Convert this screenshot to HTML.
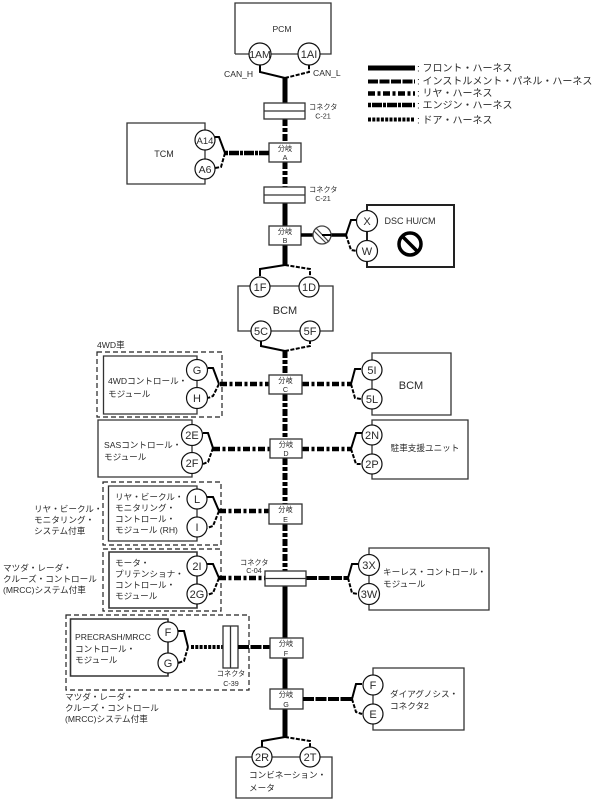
<!DOCTYPE html>
<html><head><meta charset="utf-8">
<style>
html,body{margin:0;padding:0;background:#fff;width:602px;height:799px;overflow:hidden}
svg{display:block}
text{font-family:"Liberation Sans","Noto Sans CJK JP",sans-serif;fill:#2a2a2a;font-size:8.6px}
.m{text-anchor:middle}
.s{font-size:7.200px}
.l{font-size:10px}
.b{fill:none;stroke:#333;stroke-width:1.3}
.box{fill:#fff;stroke:#333;stroke-width:1.3}
.c{fill:#fff;stroke:#111;stroke-width:1.2}
.ct{font-size:11px;text-anchor:middle}
.g{fill:none;stroke:#222;stroke-width:1.2;stroke-dasharray:5 3}
.w{fill:none;stroke:#000;stroke-width:2}
.wd{fill:none;stroke:#000;stroke-width:2;stroke-dasharray:4 1.5}
.front{stroke:#000;stroke-width:5;fill:none}
.inst{stroke:#000;stroke-width:4;fill:none;stroke-dasharray:11 1.5}
.rear{stroke:#000;stroke-width:4.5;fill:none;stroke-dasharray:7 2.5 3 2.5}
.rv{stroke:#000;stroke-width:5;fill:none;stroke-dasharray:7 2 4 2}
.eng{stroke:#000;stroke-width:4.5;fill:none;stroke-dasharray:3 1 10 1}
.door{stroke:#000;stroke-width:4;fill:none;stroke-dasharray:3 1.3}
</style></head><body>
<svg width="602" height="799" viewBox="0 0 602 799" xmlns="http://www.w3.org/2000/svg">
<!-- legend -->
<path class="front" d="M368 68H415"/><path class="inst" d="M368 81.500H415" style="stroke-dasharray:10 1.500"/>
<path class="rear" d="M368 93.500H415"/><path class="eng" d="M368 105H415"/><path class="door" d="M368 119.500H415"/>
<text x="417" y="71.500" class="l">: フロント・ハーネス</text>
<text x="417" y="84.500" class="l">: インストルメント・パネル・ハーネス</text>
<text x="417" y="96.500" class="l">: リヤ・ハーネス</text>
<text x="417" y="108.500" class="l">: エンジン・ハーネス</text>
<text x="417" y="123.500" class="l">: ドア・ハーネス</text>

<!-- trunk -->
<path class="front" d="M285 78V103"/>
<path class="rv" d="M285 119V143"/>
<path class="rv" d="M285 162V187"/>
<path class="front" d="M285 203V226"/>
<path class="front" d="M285 245V265"/>
<path class="rv" d="M285 351V375"/>
<path class="rv" d="M285 394V439"/>
<path class="rv" d="M285 458V504"/>
<path class="rv" d="M285 524V571"/>
<path class="front" d="M285 586V638"/>
<path class="front" d="M285 658V689"/>
<path class="front" d="M285 709V737"/>

<!-- PCM -->
<path class="b" d="M235 54V3H331V54H235"/>
<text x="282" y="32" class="m">PCM</text>
<path class="w" d="M260 65V72L285 78"/><path class="wd" d="M285 78L309 72V65"/>
<circle class="c" cx="260" cy="54" r="11"/><text x="260" y="58" class="ct" style="font-size:10.500px">1AM</text>
<circle class="c" cx="309" cy="54" r="11"/><text x="309" y="58" class="ct">1AI</text>
<text x="224" y="77">CAN_H</text><text x="313" y="76">CAN_L</text>

<!-- C-21 upper -->
<rect class="box" x="264" y="103" width="41" height="16"/><path class="b" d="M264 111H305"/>
<text x="309" y="109.500" class="s">コネクタ</text><text x="323" y="118.500" class="m s">C-21</text>
<!-- A -->
<rect class="box" x="269" y="143" width="32" height="19"/>
<text x="285" y="151" class="m s">分岐</text><text x="285" y="160" class="m s">A</text>
<path class="eng" d="M225 153H269"/>
<path class="w" d="M215 137H219L225 153"/><path class="wd" d="M225 153L221 167L215 168"/>
<path class="b" d="M205 123H127V184H205Z"/>
<text x="164" y="157" class="m" style="font-size:9px">TCM</text>
<circle class="c" cx="205" cy="140" r="10"/><text x="205" y="144" class="ct" style="font-size:9.500px">A14</text>
<circle class="c" cx="205" cy="169" r="10"/><text x="205" y="173" class="ct" style="font-size:10.500px">A6</text>
<!-- C-21 lower -->
<rect class="box" x="264" y="187" width="41" height="16"/><path class="b" d="M264 195H305"/>
<text x="309" y="192" class="s">コネクタ</text><text x="323" y="201" class="m s">C-21</text>
<!-- B -->
<rect class="box" x="269" y="226" width="32" height="19"/>
<text x="285" y="234" class="m s">分岐</text><text x="285" y="243" class="m s">B</text>
<path d="M301 235H346" stroke="#000" stroke-width="3.500" fill="none"/>
<circle cx="322" cy="235" r="9" fill="#fff" stroke="#444" stroke-width="1.300"/>
<path d="M316 228L329 242M314 231L326 243" stroke="#444" stroke-width="1.200" fill="none"/>
<path d="M322 235H331" stroke="#000" stroke-width="2" fill="none"/>
<path class="w" d="M346 235L351 220H357"/><path class="wd" d="M346 235L351 250L357 251"/>
<path d="M367 205H454V267H367Z" fill="none" stroke="#222" stroke-width="2"/>
<circle class="c" cx="367" cy="221" r="10.500"/><text x="367" y="225" class="ct">X</text>
<circle class="c" cx="367" cy="251" r="10.500"/><text x="367" y="255" class="ct">W</text>
<text x="410" y="224" class="m" style="font-size:9px">DSC HU/CM</text>
<circle cx="410" cy="244" r="11" fill="none" stroke="#000" stroke-width="3.500"/>
<path d="M403 237L417 251" stroke="#000" stroke-width="3.500"/>
<!-- BCM central -->
<path class="w" d="M260 276V269L285 265"/><path class="wd" d="M285 265L310 269V276"/>
<path class="b" d="M238 286H333V331H238Z"/>
<text x="285" y="314" class="m" style="font-size:11px">BCM</text>
<circle class="c" cx="260" cy="287" r="10"/><text x="260" y="291" class="ct">1F</text>
<circle class="c" cx="309" cy="287" r="10"/><text x="309" y="291" class="ct">1D</text>
<circle class="c" cx="261" cy="331" r="10"/><text x="261" y="335" class="ct">5C</text>
<circle class="c" cx="310" cy="331" r="10"/><text x="310" y="335" class="ct">5F</text>
<path class="w" d="M261 341V346L285 351"/><path class="wd" d="M285 351L310 346V341"/>

<!-- C row -->
<text x="97" y="348">4WD車</text>
<rect class="g" x="97" y="352" width="125" height="65"/>
<path class="b" d="M197 356H103.500V414H197Z"/>
<text x="108" y="384">4WDコントロール・</text><text x="108" y="397">モジュール</text>
<path class="w" d="M208 368H213L219 384"/><path class="wd" d="M219 384L213 396L208 398"/>
<circle class="c" cx="197" cy="370" r="10.500"/><text x="197" y="374" class="ct">G</text>
<circle class="c" cx="197" cy="398" r="10.500"/><text x="197" y="402" class="ct">H</text>
<path class="rear" d="M220 384H269"/><path class="rear" d="M302 384H351"/>
<rect class="box" x="269" y="375" width="33" height="19"/>
<text x="285.500" y="383" class="m s">分岐</text><text x="285.500" y="392" class="m s">C</text>
<path class="w" d="M351 384L355 369H361"/><path class="wd" d="M351 384L355 398L361 399"/>
<path class="b" d="M372 353H451V415H372Z"/>
<text x="411" y="389" class="m" style="font-size:11px">BCM</text>
<circle class="c" cx="372" cy="370" r="10"/><text x="372" y="374" class="ct">5I</text>
<circle class="c" cx="372" cy="399" r="10"/><text x="372" y="403" class="ct">5L</text>

<!-- D row -->
<path class="b" d="M192 420H98V477H192Z"/>
<text x="104" y="448">SASコントロール・</text><text x="104" y="460">モジュール</text>
<path class="w" d="M203 433H208L213 448"/><path class="wd" d="M213 448L208 462L203 464"/>
<circle class="c" cx="192" cy="435" r="10.500"/><text x="192" y="439" class="ct">2E</text>
<circle class="c" cx="192" cy="463" r="10.500"/><text x="192" y="467" class="ct">2F</text>
<path class="rear" d="M213 449H270"/><path class="rear" d="M302 449H351"/>
<rect class="box" x="270" y="439" width="32" height="19"/>
<text x="286" y="447" class="m s">分岐</text><text x="286" y="456" class="m s">D</text>
<path class="w" d="M351 449L356 433H362"/><path class="wd" d="M351 449L356 464H361"/>
<path class="b" d="M372 420H468V479H372Z"/>
<text x="425" y="451" class="m">駐車支援ユニット</text>
<circle class="c" cx="372" cy="435" r="10"/><text x="372" y="439" class="ct">2N</text>
<circle class="c" cx="372" cy="464" r="10"/><text x="372" y="468" class="ct">2P</text>

<!-- E row -->
<text x="34" y="512">リヤ・ビークル・</text><text x="34" y="523">モニタリング・</text><text x="34" y="534">システム付車</text>
<rect class="g" x="103" y="482" width="118" height="63"/>
<path class="b" d="M197 486H108.500V541H197Z"/>
<text x="115" y="500">リヤ・ビークル・</text><text x="115" y="511">モニタリング・</text><text x="115" y="522">コントロール・</text><text x="115" y="533">モジュール (RH)</text>
<path class="w" d="M207 497H213L219 511"/><path class="wd" d="M219 511L213 526L207 528"/>
<circle class="c" cx="197" cy="499" r="10"/><text x="197" y="503" class="ct">L</text>
<circle class="c" cx="197" cy="527" r="10"/><text x="197" y="531" class="ct">I</text>
<path class="rear" d="M219 511H269"/>
<rect class="box" x="269" y="504" width="33" height="20"/>
<text x="285.500" y="512" class="m s">分岐</text><text x="285.500" y="522" class="m s">E</text>

<!-- C-04 row -->
<text x="3" y="571">マツダ・レーダ・</text><text x="3" y="582">クルーズ・コントロール</text><text x="3" y="593">(MRCC)システム付車</text>
<rect class="g" x="103" y="549" width="118" height="62"/>
<path class="b" d="M197 552H109V608H197Z" style="stroke-width:1.600"/>
<text x="115" y="566">モータ・</text><text x="115" y="577">プリテンショナ・</text><text x="115" y="588">コントロール・</text><text x="115" y="599">モジュール</text>
<path class="w" d="M207 564H213L219 578"/><path class="wd" d="M219 578L213 593L207 595"/>
<circle class="c" cx="197" cy="566" r="10"/><text x="197" y="570" class="ct">2I</text>
<circle class="c" cx="197" cy="594" r="10"/><text x="197" y="598" class="ct">2G</text>
<path class="rear" d="M219 578H265"/><path class="inst" d="M306 578H348"/>
<text x="240" y="565" class="s">コネクタ</text><text x="254" y="573" class="m s">C-04</text>
<rect class="box" x="265" y="571" width="41" height="15"/><path class="b" d="M265 578.500H306"/>
<path class="w" d="M348 578L352 564H358"/><path class="wd" d="M348 578L352 593L358 594"/>
<path class="b" d="M369 548H489V610H369Z"/>
<text x="383" y="575">キーレス・コントロール・</text><text x="383" y="587">モジュール</text>
<circle class="c" cx="369" cy="565" r="10.500"/><text x="369" y="569" class="ct">3X</text>
<circle class="c" cx="369" cy="594" r="10.500"/><text x="369" y="598" class="ct">3W</text>

<!-- F row -->
<rect class="g" x="66" y="615" width="183" height="75"/>
<path class="b" d="M168 619H70.500V676H168Z" style="stroke-width:1.600"/>
<text x="75" y="640">PRECRASH/MRCC</text><text x="75" y="652">コントロール・</text><text x="75" y="663">モジュール</text>
<path class="w" d="M178 631H184L188 647"/><path class="wd" d="M188 647L184 661L178 663"/>
<circle class="c" cx="168" cy="632" r="10"/><text x="168" y="636" class="ct">F</text>
<circle class="c" cx="168" cy="663" r="10"/><text x="168" y="667" class="ct">G</text>
<path class="door" d="M191 647H223"/>
<rect class="box" x="223" y="626" width="15" height="42"/><path class="b" d="M230.500 626V668"/>
<path class="inst" d="M238 647H270"/>
<text x="231" y="676" class="m s">コネクタ</text><text x="231" y="686" class="m s">C-39</text>
<rect class="box" x="270" y="638" width="33" height="20"/>
<text x="286" y="646" class="m s">分岐</text><text x="286" y="656" class="m s">F</text>
<text x="65" y="700">マツダ・レーダ・</text><text x="65" y="711">クルーズ・コントロール</text><text x="65" y="722">(MRCC)システム付車</text>

<!-- G row -->
<rect class="box" x="270" y="689" width="33" height="20"/>
<text x="286" y="697" class="m s">分岐</text><text x="286" y="707" class="m s">G</text>
<path class="inst" d="M303 699H352"/>
<path class="w" d="M352 699L356 684H362"/><path class="wd" d="M352 699L356 712L362 714"/>
<path class="b" d="M373 668H464V730H373Z"/>
<text x="390" y="697">ダイアグノシス・</text><text x="390" y="709">コネクタ2</text>
<circle class="c" cx="373" cy="685" r="10"/><text x="373" y="689" class="ct">F</text>
<circle class="c" cx="373" cy="714" r="10"/><text x="373" y="718" class="ct">E</text>

<!-- Combination meter -->
<path class="w" d="M262 747V741L285 737"/><path class="wd" d="M285 737L310 741V747"/>
<path class="b" d="M236 757H332V798H236Z"/>
<circle class="c" cx="262" cy="757" r="10"/><text x="262" y="761" class="ct">2R</text>
<circle class="c" cx="310" cy="757" r="10"/><text x="310" y="761" class="ct">2T</text>
<text x="249" y="778">コンビネーション・</text><text x="249" y="791">メータ</text>
</svg>
</body></html>
